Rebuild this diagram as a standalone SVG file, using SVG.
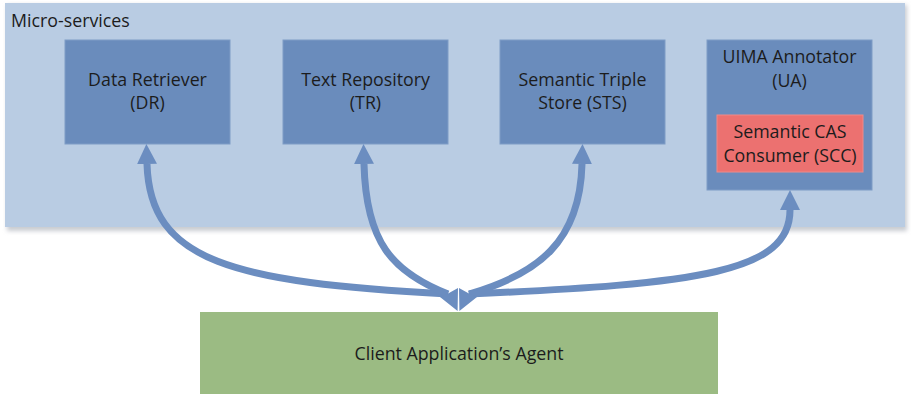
<svg xmlns="http://www.w3.org/2000/svg" width="911" height="394" viewBox="0 0 911 394">
  <style>
    .lbl { font-family: "Open Sans", "Noto Sans", "Liberation Sans", sans-serif; font-size: 17.8px; fill: #1c1c1c; text-anchor: middle; }
    .svc { fill: #6a8cbc; stroke: #7f9cc6; stroke-width: 1; }
    .link { fill: none; stroke: #6b8dc0; stroke-width: 7; }
    .head { fill: #6b8dc0; }
  </style>
  <defs>
    <marker id="tip" viewBox="0 0 20 20" refX="0" refY="10" markerWidth="20" markerHeight="20" markerUnits="userSpaceOnUse" orient="auto-start-reverse">
      <path d="M0,0 L20,10 L0,20 z" fill="#6b8dc0"/>
    </marker>
    <filter id="soft" x="-5%" y="-5%" width="110%" height="115%">
      <feGaussianBlur stdDeviation="2"/>
    </filter>
  </defs>

  <rect width="911" height="394" fill="#ffffff"/>

  <!-- micro-services container -->
  <g id="microservices">
    <rect x="7" y="5" width="900" height="226" fill="#c9ccd2" filter="url(#soft)"/>
    <rect x="5" y="3" width="900" height="224" fill="#b9cce3"/>
    <text x="11" y="27" class="lbl" style="text-anchor:start">Micro-services</text>
  </g>

  <g id="data-retriever">
    <rect class="svc" x="65" y="40" width="165" height="104"/>
    <text class="lbl" x="147.5" y="86">Data Retriever</text>
    <text class="lbl" x="147.5" y="109">(DR)</text>
  </g>

  <g id="text-repository">
    <rect class="svc" x="283" y="40" width="165" height="104"/>
    <text class="lbl" x="365.5" y="86">Text Repository</text>
    <text class="lbl" x="365.5" y="109">(TR)</text>
  </g>

  <g id="semantic-triple-store">
    <rect class="svc" x="500" y="40" width="165" height="104"/>
    <text class="lbl" x="582.5" y="86">Semantic Triple</text>
    <text class="lbl" x="582.5" y="109">Store (STS)</text>
  </g>

  <g id="uima-annotator">
    <rect class="svc" x="707" y="40" width="165" height="150"/>
    <text class="lbl" x="789.5" y="63">UIMA Annotator</text>
    <text class="lbl" x="789.5" y="87">(UA)</text>
  </g>

  <g id="semantic-cas-consumer">
    <rect x="717" y="115" width="146" height="57" fill="#ec7170" stroke="#ef8a88" stroke-width="1"/>
    <text class="lbl" x="790" y="138">Semantic CAS</text>
    <text class="lbl" x="790" y="162">Consumer (SCC)</text>
  </g>

  <g id="client-agent">
    <rect x="200" y="312" width="518" height="82" fill="#9bbb83"/>
    <text class="lbl" x="459" y="360">Client Application’s Agent</text>
  </g>

  <!-- connectors: agent to each service -->
  <g id="connectors">
    <path class="link" d="M147,164 C150,262 232,282 448,294" marker-start="url(#tip)"/>
    <path class="link" d="M364,164 C366,242 392,272 448,294" marker-start="url(#tip)"/>
    <path class="link" d="M582,164 C580,242 538,274 469,294" marker-start="url(#tip)"/>
    <path class="link" d="M790,210 C790,272 700,284 469,294" marker-start="url(#tip)"/>
    <!-- converging heads at the agent -->
    <polygon class="head" points="457.6,311 440,297 449,293 458,288"/>
    <polygon class="head" points="459.4,311 459,288 468,293 477,297"/>
  </g>
</svg>
